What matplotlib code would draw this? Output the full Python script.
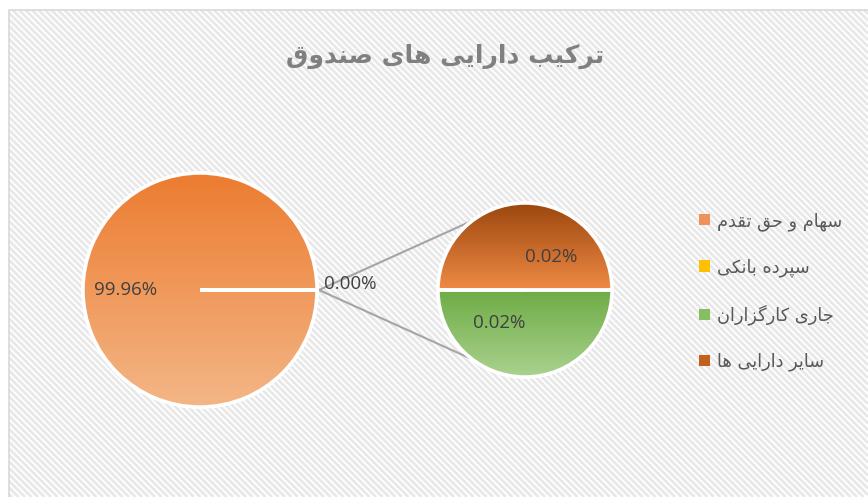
import numpy as np
import matplotlib
matplotlib.use("Agg")
import matplotlib.pyplot as plt
from matplotlib.patches import Rectangle, Patch, PathPatch
from matplotlib.collections import LineCollection
from matplotlib.colors import LinearSegmentedColormap

# ---------------- data ----------------
title = "ترکیب دارایی های صندوق"
categories = ["سهام و حق تقدم", "سپرده بانکی", "جاری کارگزاران", "سایر دارایی ها"]
values = [99.96, 0.00, 0.02, 0.02]          # percent of fund assets
n_main = 1                                   # first n categories in main pie; rest in the secondary pie
legend_colors = ["#F0915A", "#FFC000", "#86BE62", "#C2601E"]

# ---------------- Persian shaping (matplotlib has no complex text layout) ----------------
FORMS = {  # isolated, final, initial, medial
    'ا': ('\uFE8D', '\uFE8E', None, None),
    'ب': ('\uFE8F', '\uFE90', '\uFE91', '\uFE92'),
    'پ': ('\uFB56', '\uFB57', '\uFB58', '\uFB59'),
    'ت': ('\uFE95', '\uFE96', '\uFE97', '\uFE98'),
    'ج': ('\uFE9D', '\uFE9E', '\uFE9F', '\uFEA0'),
    'ح': ('\uFEA1', '\uFEA2', '\uFEA3', '\uFEA4'),
    'د': ('\uFEA9', '\uFEAA', None, None),
    'ر': ('\uFEAD', '\uFEAE', None, None),
    'ز': ('\uFEAF', '\uFEB0', None, None),
    'س': ('\uFEB1', '\uFEB2', '\uFEB3', '\uFEB4'),
    'ص': ('\uFEB9', '\uFEBA', '\uFEBB', '\uFEBC'),
    'ق': ('\uFED5', '\uFED6', '\uFED7', '\uFED8'),
    'ک': ('\uFB8E', '\uFB8F', '\uFB90', '\uFB91'),
    'گ': ('\uFB92', '\uFB93', '\uFB94', '\uFB95'),
    'م': ('\uFEE1', '\uFEE2', '\uFEE3', '\uFEE4'),
    'ن': ('\uFEE5', '\uFEE6', '\uFEE7', '\uFEE8'),
    'ه': ('\uFEE9', '\uFEEA', '\uFEEB', '\uFEEC'),
    'و': ('\uFEED', '\uFEEE', None, None),
    'ی': ('\uFBFC', '\uFBFD', '\uFBFE', '\uFBFF'),
}

def dual(c):
    return c in FORMS and FORMS[c][2] is not None

def shape(s):
    out = []
    for i, c in enumerate(s):
        if c not in FORMS:
            out.append(c)
            continue
        prev = s[i - 1] if i > 0 else ''
        nxt = s[i + 1] if i + 1 < len(s) else ''
        jp = dual(prev)
        jn = dual(c) and nxt in FORMS
        f = FORMS[c]
        if jp and jn:
            out.append(f[3])
        elif jp:
            out.append(f[1])
        elif jn:
            out.append(f[2])
        else:
            out.append(f[0])
    return ''.join(reversed(out))

# ---------------- figure ----------------
W, H = 868, 497
fig = plt.figure(figsize=(W / 100, H / 100), dpi=100)
ax = fig.add_axes([0, 0, 1, 1])

# background: diagonal stripes inside chart area, plus border
bx0, btop = 9, H - 10
step = 6.5
segs = []
for c in np.arange(bx0 - H, W + H, step):
    xa, xb = max(c, bx0), min(c + btop, W)
    if xa < xb:
        segs.append([(xa, btop - (xa - c)), (xb, btop - (xb - c))])
ax.add_collection(LineCollection(segs, colors='#E8E8E8', linewidths=2.0, zorder=0.2))
ax.add_patch(Rectangle((bx0, -5), W, btop + 5, facecolor='none', edgecolor='#D9D9D9',
                       linewidth=1.2, zorder=0.5))

def grad_fill(wedges, top_color, bottom_color, ytop, ybot, x0, x1):
    cmap = LinearSegmentedColormap.from_list('g', [top_color, bottom_color])
    g = np.linspace(0, 1, 256).reshape(-1, 1)
    for w in wedges:
        im = ax.imshow(g, cmap=cmap, extent=(x0, x1, ybot, ytop), origin='upper',
                       aspect='auto', zorder=2, interpolation='bilinear')
        im.set_clip_path(w)

def outline(wedges):
    for w in wedges:
        ax.add_patch(PathPatch(w.get_path(), transform=w.get_transform(), fill=False,
                               edgecolor='white', linewidth=2.5, zorder=3))

# main pie
c1 = (200, H - 290)
r1 = 117
main_vals = values[:n_main]
other = sum(values[n_main:])
other_ang = other / 100 * 360
w_main, _ = ax.pie([other] + main_vals, center=c1, radius=r1, startangle=-other_ang / 2,
                   counterclock=True, colors=['#ED7D31', '#ED7D31'],
                   wedgeprops=dict(edgecolor='white', linewidth=2.5))
for w in w_main:
    w.set_zorder(1)
grad_fill(w_main[1:], '#EC7C30', '#F4B687', c1[1] + r1, c1[1] - r1, c1[0] - r1, c1[0] + r1)
outline(w_main)

# secondary pie
c2 = (525, H - 290)
r2 = 87
sec_vals = values[n_main:]
w_sec, _ = ax.pie(sec_vals, center=c2, radius=r2, startangle=180, counterclock=True,
                  colors=['#FFC000', '#70AD47', '#ED7D31'],
                  wedgeprops=dict(edgecolor='white', linewidth=2.5))
for w in w_sec:
    w.set_zorder(1)
grad_fill([w_sec[1]], '#6EAC45', '#AAD28F', c2[1], c2[1] - r2, c2[0] - r2, c2[0] + r2)
grad_fill([w_sec[2]], '#9C470E', '#EF8A45', c2[1] + r2, c2[1], c2[0] - r2, c2[0] + r2)
outline(w_sec)

# connector lines
p0 = (c1[0] + r1 + 2, c1[1])
for ang in (127, 233):
    a = np.deg2rad(ang)
    ax.plot([p0[0], c2[0] + r2 * np.cos(a)], [p0[1], c2[1] + r2 * np.sin(a)],
            color='#A5A5A5', linewidth=1.5, zorder=0.8)

# labels
lab_kw = dict(fontsize=13.5, color='#404040', family='Open Sans', va='center', ha='center', zorder=5)
ax.text(c1[0] - 0.64 * r1, c1[1], f"{values[0]:.2f}%", **lab_kw)
ax.text(c1[0] + 1.28 * r1, c1[1] + 6, f"{values[1]:.2f}%", **lab_kw)
ax.text(c2[0] + 0.30 * r2, c2[1] + 0.38 * r2, f"{values[3]:.2f}%", **lab_kw)
ax.text(c2[0] - 0.30 * r2, c2[1] - 0.38 * r2, f"{values[2]:.2f}%", **lab_kw)

# title
ax.text(445, H - 56, shape(title), fontsize=18, fontweight='bold', color='#808080',
        family='DejaVu Sans', ha='center', va='center', zorder=5)

# legend
handles = [Patch(facecolor=c, edgecolor='none') for c in legend_colors]
leg = ax.legend(handles, [shape(c) for c in categories], loc='upper left',
                bbox_to_anchor=(683 / W, 1 - 196 / H), frameon=False,
                prop=dict(family='DejaVu Sans', size=12.8), labelcolor='#595959',
                handlelength=0.6, handleheight=0.6, handletextpad=0.4, labelspacing=1.55)

ax.set_xlim(0, W)
ax.set_ylim(0, H)
ax.set_aspect('auto')
ax.axis('off')
fig.savefig('out.png', dpi=100)
